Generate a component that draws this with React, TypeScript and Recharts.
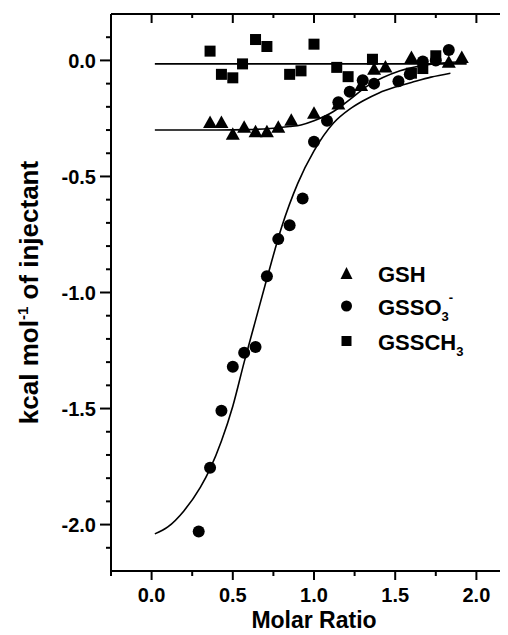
import React from 'react'
import { ComposedChart, Line, Scatter, XAxis, YAxis, Legend } from 'recharts'

// measured points (x = molar ratio, y = kcal/mol of injectant)
const gshPoints = [
  { x: 0.36, y: -0.27 }, { x: 0.43, y: -0.27 }, { x: 0.5, y: -0.32 }, { x: 0.57, y: -0.29 },
  { x: 0.64, y: -0.31 }, { x: 0.71, y: -0.31 }, { x: 0.78, y: -0.29 }, { x: 0.86, y: -0.26 },
  { x: 1.0, y: -0.23 }, { x: 1.15, y: -0.19 }, { x: 1.29, y: -0.11 }, { x: 1.37, y: -0.04 },
  { x: 1.44, y: -0.03 }, { x: 1.6, y: 0.01 }, { x: 1.83, y: -0.01 }, { x: 1.91, y: 0.01 },
]

const gsso3Points = [
  { x: 0.29, y: -2.03 }, { x: 0.36, y: -1.755 }, { x: 0.43, y: -1.51 }, { x: 0.5, y: -1.32 },
  { x: 0.57, y: -1.26 }, { x: 0.64, y: -1.235 }, { x: 0.71, y: -0.93 }, { x: 0.78, y: -0.77 },
  { x: 0.85, y: -0.71 }, { x: 0.93, y: -0.595 }, { x: 1.0, y: -0.35 }, { x: 1.08, y: -0.26 },
  { x: 1.15, y: -0.18 }, { x: 1.22, y: -0.135 }, { x: 1.3, y: -0.085 }, { x: 1.37, y: -0.1 },
  { x: 1.52, y: -0.09 }, { x: 1.59, y: -0.06 }, { x: 1.67, y: -0.005 }, { x: 1.75, y: 0.0 },
  { x: 1.83, y: 0.045 },
]

const gssch3Points = [
  { x: 0.36, y: 0.04 }, { x: 0.43, y: -0.06 }, { x: 0.5, y: -0.075 }, { x: 0.56, y: -0.015 },
  { x: 0.64, y: 0.09 }, { x: 0.71, y: 0.06 }, { x: 0.85, y: -0.06 }, { x: 0.92, y: -0.045 },
  { x: 1.0, y: 0.07 }, { x: 1.14, y: -0.03 }, { x: 1.21, y: -0.07 }, { x: 1.36, y: 0.005 },
  { x: 1.6, y: -0.055 }, { x: 1.67, y: -0.035 }, { x: 1.75, y: 0.02 },
]

// fitted curves
const gshFit = [
  { x: 0.02, y: -0.3 }, { x: 0.4, y: -0.3 }, { x: 0.6, y: -0.298 }, { x: 0.75, y: -0.292 },
  { x: 0.85, y: -0.285 }, { x: 0.92, y: -0.278 }, { x: 1.0, y: -0.26 }, { x: 1.12, y: -0.22 },
  { x: 1.2, y: -0.18 }, { x: 1.33, y: -0.11 }, { x: 1.53, y: -0.045 }, { x: 1.7, y: -0.018 },
  { x: 1.92, y: -0.006 },
]

const gsso3Fit = [
  { x: 0.02, y: -2.04 }, { x: 0.1, y: -2.01 }, { x: 0.2, y: -1.94 }, { x: 0.3, y: -1.84 },
  { x: 0.36, y: -1.76 }, { x: 0.43, y: -1.64 }, { x: 0.5, y: -1.49 }, { x: 0.57, y: -1.3 },
  { x: 0.64, y: -1.12 }, { x: 0.71, y: -0.94 }, { x: 0.8, y: -0.72 }, { x: 0.9, y: -0.53 },
  { x: 1.0, y: -0.39 }, { x: 1.12, y: -0.27 }, { x: 1.22, y: -0.21 }, { x: 1.3, y: -0.175 },
  { x: 1.4, y: -0.14 }, { x: 1.5, y: -0.115 }, { x: 1.6, y: -0.095 }, { x: 1.72, y: -0.072 },
  { x: 1.84, y: -0.055 },
]

const gssch3Fit = [{ x: 0.02, y: -0.015 }, { x: 1.94, y: -0.015 }]

const xTicks = [-0.25, 0, 0.25, 0.5, 0.75, 1, 1.25, 1.5, 1.75, 2, 2.25]
const yTicks = [
  -2.2, -2.1, -2.0, -1.9, -1.8, -1.7, -1.6, -1.5, -1.4, -1.3, -1.2, -1.1, -1.0,
  -0.9, -0.8, -0.7, -0.6, -0.5, -0.4, -0.3, -0.2, -0.1, 0.0, 0.1, 0.2,
]

const FONT = "'Liberation Sans', Arial, sans-serif"
const isHalf = (v: number) => Math.abs(v * 2 - Math.round(v * 2)) < 1e-6

const BottomTick = (p: any) => {
  const { x, y, payload } = p
  const major = isHalf(payload.value)
  return (
    <g>
      <line x1={x} x2={x} y1={y} y2={y + (major ? 9 : 5)} stroke="#000" strokeWidth={2} />
      {major && (
        <text x={x} y={y + 31} textAnchor="middle" fontFamily={FONT} fontWeight="bold" fontSize={20} fill="#000">
          {payload.value.toFixed(1)}
        </text>
      )}
    </g>
  )
}

const TopTick = (p: any) => {
  const { x, y, payload } = p
  const major = isHalf(payload.value)
  return <line x1={x} x2={x} y1={y} y2={y + (major ? 9 : 4)} stroke="#000" strokeWidth={2} />
}

const LeftTick = (p: any) => {
  const { x, y, payload } = p
  const v = payload.value
  if (Math.abs(v - 0.2) < 1e-6 || Math.abs(v + 2.2) < 1e-6) return <g />
  const major = isHalf(v)
  return (
    <g>
      <line x1={x - (major ? 11 : 5)} x2={x} y1={y} y2={y} stroke="#000" strokeWidth={2} />
      {major && (
        <text x={x - 15} y={y} dy="0.36em" textAnchor="end" fontFamily={FONT} fontWeight="bold" fontSize={20} fill="#000">
          {v.toFixed(1)}
        </text>
      )}
    </g>
  )
}

const RightTick = (p: any) => {
  const { x, y, payload } = p
  if (!isHalf(payload.value)) return <g />
  return <line x1={x - 12} x2={x} y1={y} y2={y} stroke="#000" strokeWidth={2} />
}

const YTitle = (p: any) => {
  const vb = p.viewBox
  const cy = vb.y + vb.height / 2
  return (
    <g transform={`translate(30, ${cy}) rotate(-90)`}>
      <text x={0} y={0} textAnchor="middle" fontFamily={FONT} fontWeight="bold" fontSize={26} fill="#000">
        kcal mol
        <tspan fontSize={15} dy={-10}>-1</tspan>
        <tspan dy={10}> of injectant</tspan>
      </text>
    </g>
  )
}

const XTitle = (p: any) => {
  const vb = p.viewBox
  return (
    <text x={vb.x + vb.width / 2} y={vb.y + 57} textAnchor="middle" fontFamily={FONT} fontWeight="bold" fontSize={23} fill="#000">
      Molar Ratio
    </text>
  )
}

const triangle = (p: any) => (
  <path d={`M${p.cx},${p.cy - 7.5} L${p.cx + 7},${p.cy + 5} L${p.cx - 7},${p.cy + 5} Z`} fill="#000" />
)
const circle = (p: any) => <circle cx={p.cx} cy={p.cy} r={6} fill="#000" />
const square = (p: any) => <rect x={p.cx - 5.5} y={p.cy - 5.5} width={11} height={11} fill="#000" />

const LegendBox = () => {
  const t = { fontFamily: FONT, fontWeight: 'bold' as const, fontSize: 22, fill: '#000' }
  return (
    <svg width={175} height={110}>
      <path d="M18.5,14 L24.5,26 L12.5,26 Z" fill="#000" />
      <text x={50} y={29} {...t}>GSH</text>
      <circle cx={18.5} cy={53} r={5.5} fill="#000" />
      <text x={50} y={62} {...t}>
        GSSO<tspan fontSize={13} dy={6}>3</tspan>
        <tspan fontSize={13} dy={-19}>-</tspan>
      </text>
      <rect x={13.5} y={83} width={10} height={10} fill="#000" />
      <text x={50} y={97} {...t}>
        GSSCH<tspan fontSize={13} dy={6}>3</tspan>
      </text>
    </svg>
  )
}

export default function App() {
  return (
    <div style={{ width: 500, height: 627, overflow: 'hidden' }}>
      <ComposedChart width={520} height={627} margin={{ top: 1, right: 0, bottom: 0, left: 0 }}>
        <XAxis
          xAxisId="bottom"
          dataKey="x"
          type="number"
          domain={[-0.25, 2.25]}
          ticks={xTicks}
          interval={0}
          allowDataOverflow
          height={64}
          tickSize={0}
          tickMargin={0}
          tickLine={false}
          axisLine={{ stroke: '#000', strokeWidth: 2 }}
          tick={<BottomTick />}
          label={<XTitle />}
        />
        <XAxis
          xAxisId="top"
          orientation="top"
          dataKey="x"
          type="number"
          domain={[-0.25, 2.25]}
          ticks={xTicks}
          interval={0}
          allowDataOverflow
          height={5}
          tickSize={0}
          tickMargin={0}
          tickLine={false}
          axisLine={{ stroke: '#000', strokeWidth: 2 }}
          tick={<TopTick />}
        />
        <YAxis
          yAxisId="left"
          dataKey="y"
          type="number"
          domain={[-2.2, 0.2]}
          ticks={yTicks}
          interval={0}
          allowDataOverflow
          width={103}
          tickSize={0}
          tickMargin={0}
          tickLine={false}
          axisLine={{ stroke: '#000', strokeWidth: 2 }}
          tick={<LeftTick />}
          label={<YTitle />}
        />
        <YAxis
          yAxisId="right"
          orientation="right"
          dataKey="y"
          type="number"
          domain={[-2.2, 0.2]}
          ticks={yTicks}
          interval={0}
          allowDataOverflow
          width={11}
          tickSize={0}
          tickMargin={0}
          tickLine={false}
          axisLine={false}
          tick={<RightTick />}
        />
        <Legend
          layout="vertical"
          align="center"
          verticalAlign="middle"
          wrapperStyle={{ top: 245, left: 320, width: 175 }}
          content={() => <LegendBox />}
        />
        <Line xAxisId="bottom" yAxisId="left" data={gssch3Fit} dataKey="y" type="linear" stroke="#000" strokeWidth={1.6} dot={false} isAnimationActive={false} />
        <Line xAxisId="bottom" yAxisId="left" data={gshFit} dataKey="y" type="monotone" stroke="#000" strokeWidth={1.6} dot={false} isAnimationActive={false} />
        <Line xAxisId="bottom" yAxisId="left" data={gsso3Fit} dataKey="y" type="monotone" stroke="#000" strokeWidth={1.6} dot={false} isAnimationActive={false} />
        <Scatter xAxisId="bottom" yAxisId="left" name="GSH" data={gshPoints} shape={triangle} isAnimationActive={false} />
        <Scatter xAxisId="bottom" yAxisId="left" name="GSSO3-" data={gsso3Points} shape={circle} isAnimationActive={false} />
        <Scatter xAxisId="bottom" yAxisId="left" name="GSSCH3" data={gssch3Points} shape={square} isAnimationActive={false} />
      </ComposedChart>
    </div>
  )
}
